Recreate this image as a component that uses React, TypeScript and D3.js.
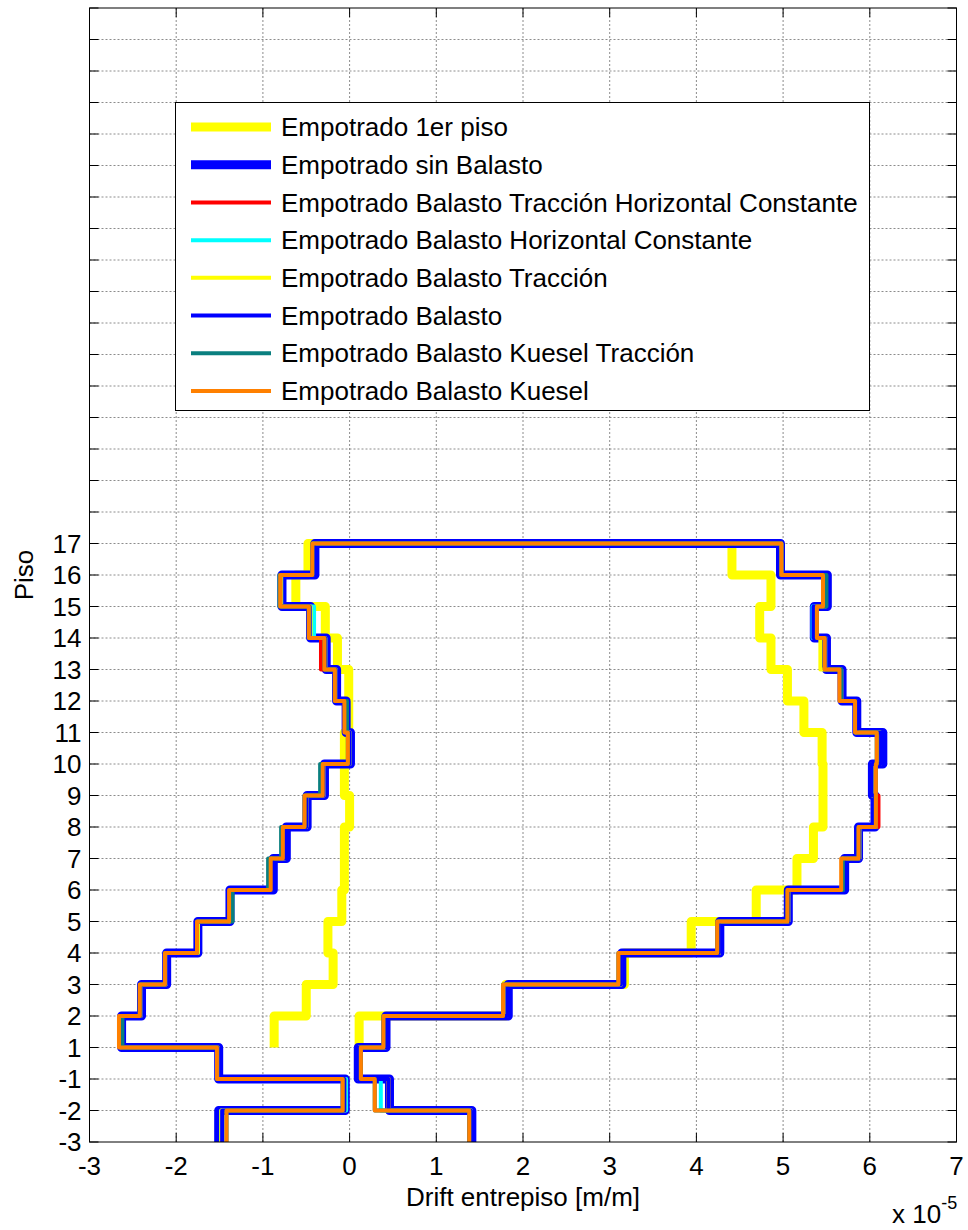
import { useEffect, useRef } from 'react';
import * as d3 from 'd3';

const WIDTH = 968;
const HEIGHT = 1230;
const FONT = '"Liberation Sans", Arial, Helvetica, sans-serif';

// storeys from top to bottom, each one spans from its level down to the next level
const STOREYS = ['17', '16', '15', '14', '13', '12', '11', '10', '9', '8', '7', '6', '5', '4', '3', '2', '1', '-1', '-2'];
// y tick labels from the bottom of the axes upwards
const LEVELS = ['-3', '-2', '-1', '1', '2', '3', '4', '5', '6', '7', '8', '9', '10', '11', '12', '13', '14', '15', '16', '17'];
const Y_GRID_COUNT = 36;
const X_TICKS = [-3, -2, -1, 0, 1, 2, 3, 4, 5, 6, 7];

// drift values in units of 1e-5 (min = left branch, max = right branch)
const PRIMER_PISO_MIN = [-0.48, -0.62, -0.28, -0.14, -0.01, -0.01, -0.06, -0.06, 0.0, -0.06, -0.06, -0.09, -0.25, -0.19, -0.5, -0.87];
const PRIMER_PISO_MAX = [4.41, 4.86, 4.73, 4.86, 5.05, 5.24, 5.45, 5.46, 5.46, 5.35, 5.16, 4.69, 3.94, 3.17, 1.8, 0.11];

const SIN_BALASTO_MIN = [-0.4, -0.78, -0.45, -0.27, -0.15, -0.04, 0.01, -0.29, -0.49, -0.73, -0.88, -1.38, -1.75, -2.11, -2.4, -2.63, -1.51, -0.05, -1.51];
const SIN_BALASTO_MAX = [4.97, 5.51, 5.36, 5.5, 5.68, 5.85, 6.15, 6.03, 6.06, 5.87, 5.71, 5.06, 4.27, 3.14, 1.83, 0.42, 0.1, 0.46, 1.41];

const TRACC_HORIZ_MIN = [-0.42, -0.8, -0.45, -0.33, -0.16, -0.04, 0.0, -0.3, -0.5, -0.75, -0.9, -1.38, -1.75, -2.12, -2.41, -2.64, -1.52, -0.06, -1.48];
const TRACC_HORIZ_MAX = [4.98, 5.49, 5.37, 5.49, 5.67, 5.84, 6.12, 6.03, 6.1, 5.88, 5.69, 5.06, 4.26, 3.13, 1.81, 0.41, 0.11, 0.45, 1.4];

const HORIZ_MIN = [-0.42, -0.79, -0.41, -0.28, -0.16, -0.04, 0.0, -0.3, -0.5, -0.75, -0.9, -1.38, -1.75, -2.12, -2.41, -2.64, -1.52, -0.04, -1.48];
const HORIZ_MAX = [4.98, 5.49, 5.34, 5.49, 5.67, 5.84, 6.12, 6.03, 6.07, 5.88, 5.69, 5.06, 4.26, 3.13, 1.81, 0.41, 0.11, 0.36, 1.4];

const TRACC_MIN = [-0.42, -0.79, -0.45, -0.28, -0.16, -0.04, 0.0, -0.3, -0.5, -0.75, -0.9, -1.38, -1.75, -2.12, -2.41, -2.64, -1.52, -0.06, -1.48];
const TRACC_MAX = [4.98, 5.49, 5.37, 5.43, 5.67, 5.84, 6.12, 6.03, 6.07, 5.88, 5.69, 5.06, 4.26, 3.13, 1.81, 0.41, 0.11, 0.45, 1.4];

const BALASTO_MIN = [-0.41, -0.8, -0.46, -0.28, -0.16, -0.03, 0.0, -0.3, -0.5, -0.74, -0.89, -1.4, -1.77, -2.12, -2.41, -2.64, -1.52, -0.06, -1.47];
const BALASTO_MAX = [4.98, 5.5, 5.35, 5.49, 5.67, 5.85, 6.13, 6.02, 6.06, 5.88, 5.7, 5.06, 4.26, 3.13, 1.82, 0.42, 0.1, 0.45, 1.4];

const KUESEL_TRACC_MIN = [-0.43, -0.81, -0.47, -0.29, -0.17, -0.03, -0.02, -0.34, -0.52, -0.79, -0.94, -1.35, -1.76, -2.13, -2.42, -2.62, -1.53, -0.08, -1.42];
const KUESEL_TRACC_MAX = [4.98, 5.5, 5.39, 5.48, 5.67, 5.83, 6.08, 6.07, 6.07, 5.87, 5.69, 5.05, 4.24, 3.1, 1.77, 0.39, 0.13, 0.29, 1.38];

const KUESEL_MIN = [-0.43, -0.8, -0.47, -0.29, -0.17, -0.06, -0.02, -0.31, -0.52, -0.77, -0.91, -1.39, -1.76, -2.13, -2.42, -2.66, -1.53, -0.08, -1.42];
const KUESEL_MAX = [4.98, 5.46, 5.39, 5.48, 5.65, 5.83, 6.08, 6.07, 6.07, 5.87, 5.67, 5.05, 4.24, 3.1, 1.77, 0.39, 0.13, 0.29, 1.38];

const SERIES = [
  { label: 'Empotrado 1er piso', color: '#ffff00', width: 9, min: PRIMER_PISO_MIN, max: PRIMER_PISO_MAX },
  { label: 'Empotrado sin Balasto', color: '#0000ff', width: 9, min: SIN_BALASTO_MIN, max: SIN_BALASTO_MAX },
  { label: 'Empotrado Balasto Tracción Horizontal Constante', color: '#ff0000', width: 4, min: TRACC_HORIZ_MIN, max: TRACC_HORIZ_MAX },
  { label: 'Empotrado Balasto Horizontal Constante', color: '#00ffff', width: 4, min: HORIZ_MIN, max: HORIZ_MAX },
  { label: 'Empotrado Balasto Tracción', color: '#ffff00', width: 4, min: TRACC_MIN, max: TRACC_MAX },
  { label: 'Empotrado Balasto', color: '#0000ff', width: 4, min: BALASTO_MIN, max: BALASTO_MAX },
  { label: 'Empotrado Balasto Kuesel Tracción', color: '#0a7f7f', width: 4, min: KUESEL_TRACC_MIN, max: KUESEL_TRACC_MAX },
  { label: 'Empotrado Balasto Kuesel', color: '#ff8000', width: 4, min: KUESEL_MIN, max: KUESEL_MAX },
];

export default function App() {
  const svgRef = useRef<SVGSVGElement>(null);

  useEffect(() => {
    if (!svgRef.current) return;
    const svg = d3.select(svgRef.current);
    svg.selectAll('*').remove();

    const margin = { top: 8, right: 11.5, bottom: 88, left: 89.5 };
    const x0 = margin.left;
    const x1 = WIDTH - margin.right;
    const y0 = margin.top;
    const y1 = HEIGHT - margin.bottom;

    const x = d3.scaleLinear().domain([-3, 7]).range([x0, x1]);
    const y = d3.scaleLinear().domain([0, Y_GRID_COUNT]).range([y1, y0]);
    const yIdx = d3.range(0, Y_GRID_COUNT + 1);

    svg.append('rect').attr('width', WIDTH).attr('height', HEIGHT).attr('fill', '#fff');

    // dotted grid
    const grid = svg.append('g').attr('stroke', '#6e6e6e').attr('stroke-width', 0.8).attr('stroke-dasharray', '2 2');
    grid.selectAll('line.gx')
      .data(X_TICKS.slice(1, -1))
      .enter()
      .append('line')
      .attr('x1', (d) => x(d)).attr('x2', (d) => x(d))
      .attr('y1', y0).attr('y2', y1);
    grid.selectAll('line.gy')
      .data(yIdx.slice(1, -1))
      .enter()
      .append('line')
      .attr('y1', (d) => y(d)).attr('y2', (d) => y(d))
      .attr('x1', x0).attr('x2', x1);

    // staircase profiles
    const line = d3.line<[number, number]>().x((d) => x(d[0])).y((d) => y(d[1]));
    const plot = svg.append('g');
    SERIES.forEach((s) => {
      const n = s.min.length;
      const pts: [number, number][] = [];
      for (let i = n - 1; i >= 0; i--) {
        const top = LEVELS.indexOf(STOREYS[i]);
        pts.push([s.min[i], top - 1]);
        pts.push([s.min[i], top]);
      }
      for (let i = 0; i < n; i++) {
        const top = LEVELS.indexOf(STOREYS[i]);
        pts.push([s.max[i], top]);
        pts.push([s.max[i], top - 1]);
      }
      plot.append('path')
        .attr('d', line(pts))
        .attr('fill', 'none')
        .attr('stroke', s.color)
        .attr('stroke-width', s.width)
        .attr('stroke-linejoin', 'round');
    });

    // axes box and inward ticks
    const axes = svg.append('g').attr('stroke', '#000').attr('stroke-width', 1);
    axes.append('rect')
      .attr('x', x0).attr('y', y0)
      .attr('width', x1 - x0).attr('height', y1 - y0)
      .attr('fill', 'none');
    const tl = 9;
    X_TICKS.forEach((t) => {
      axes.append('line').attr('x1', x(t)).attr('x2', x(t)).attr('y1', y1).attr('y2', y1 - tl);
      axes.append('line').attr('x1', x(t)).attr('x2', x(t)).attr('y1', y0).attr('y2', y0 + tl);
    });
    yIdx.forEach((t) => {
      axes.append('line').attr('y1', y(t)).attr('y2', y(t)).attr('x1', x0).attr('x2', x0 + tl);
      axes.append('line').attr('y1', y(t)).attr('y2', y(t)).attr('x1', x1).attr('x2', x1 - tl);
    });

    const fontSize = 26;
    const text = svg.append('g').attr('font-family', FONT).attr('font-size', fontSize).attr('fill', '#000');
    text.selectAll('text.xt')
      .data(X_TICKS)
      .enter()
      .append('text')
      .attr('x', (d) => x(d))
      .attr('y', y1 + 33)
      .attr('text-anchor', 'middle')
      .text((d) => String(d));
    text.selectAll('text.yt')
      .data(LEVELS)
      .enter()
      .append('text')
      .attr('x', x0 - 8)
      .attr('y', (_, i) => y(i))
      .attr('dy', '0.35em')
      .attr('text-anchor', 'end')
      .text((d) => d);

    text.append('text')
      .attr('x', (x0 + x1) / 2)
      .attr('y', y1 + 64)
      .attr('text-anchor', 'middle')
      .text('Drift entrepiso [m/m]');
    text.append('text')
      .attr('transform', `translate(33,${(y0 + y1) / 2}) rotate(-90)`)
      .attr('text-anchor', 'middle')
      .text('Piso');

    const expo = text.append('text').attr('x', 892).attr('y', 1223);
    expo.append('tspan').text('x 10');
    expo.append('tspan').attr('font-size', 18).attr('dy', -14).text('-5');

    // legend
    const leg = svg.append('g');
    leg.append('rect')
      .attr('x', 175.5).attr('y', 102.5)
      .attr('width', 694).attr('height', 308)
      .attr('fill', '#fff').attr('stroke', '#000').attr('stroke-width', 1);
    const rowY = d3.scaleLinear().domain([0, SERIES.length - 1]).range([127, 391]);
    SERIES.forEach((s, i) => {
      leg.append('line')
        .attr('x1', 191).attr('x2', 271)
        .attr('y1', rowY(i)).attr('y2', rowY(i))
        .attr('stroke', s.color)
        .attr('stroke-width', s.width);
      leg.append('text')
        .attr('x', 281).attr('y', rowY(i))
        .attr('dy', '0.35em')
        .attr('font-family', FONT)
        .attr('font-size', fontSize)
        .text(s.label);
    });
  }, []);

  return (
    <svg
      ref={svgRef}
      width={WIDTH}
      height={HEIGHT}
      style={{ position: 'absolute', left: 0, top: 0 }}
    />
  );
}
